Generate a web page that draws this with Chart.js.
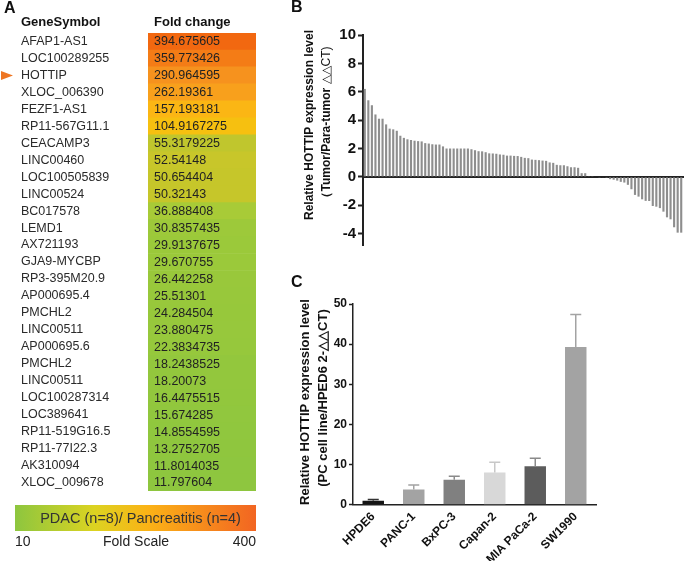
<!DOCTYPE html>
<html><head><meta charset="utf-8">
<script src="https://cdn.jsdelivr.net/npm/chart.js@4.4.1/dist/chart.umd.min.js"></script>
<style>
html,body{margin:0;padding:0;background:#fff;}
body{width:685px;height:561px;position:relative;overflow:hidden;}
canvas{position:absolute;}
</style></head><body>
<canvas id="cA" width="290" height="561" style="left:0;top:0;width:290px;height:561px"></canvas>
<canvas id="cB" width="395" height="270" style="left:290px;top:0;width:395px;height:270px"></canvas>
<canvas id="cC" width="395" height="291" style="left:290px;top:270px;width:395px;height:291px"></canvas>
<script>
// ---------- Panel A data ----------
const geneSymbols = ['AFAP1-AS1','LOC100289255','HOTTIP','XLOC_006390','FEZF1-AS1','RP11-567G11.1','CEACAMP3','LINC00460','LOC100505839','LINC00524','BC017578','LEMD1','AX721193','GJA9-MYCBP','RP3-395M20.9','AP000695.4','PMCHL2','LINC00511','AP000695.6','PMCHL2','LINC00511','LOC100287314','LOC389641','RP11-519G16.5','RP11-77I22.3','AK310094','XLOC_009678'];
const foldChange = [394.675605,359.773426,290.964595,262.19361,157.193181,104.9167275,55.3179225,52.54148,50.654404,50.32143,36.888408,30.8357435,29.9137675,29.670755,26.442258,25.51301,24.284504,23.880475,22.3834735,18.2438525,18.20073,16.4475515,15.674285,14.8554595,13.2752705,11.8014035,11.797604];
const highlightGene = 'HOTTIP';
const scaleMin = '10', scaleMax = '400';

// ---------- Panel B data ----------
const hottipRatio = [6.2,5.4,5.05,4.4,4.1,4.1,3.7,3.4,3.35,3.25,2.9,2.75,2.65,2.6,2.55,2.52,2.5,2.38,2.35,2.3,2.28,2.28,2.15,2.0,2.0,2.0,2.0,2.0,
 2.0,2.0,1.95,1.88,1.81,1.8,1.74,1.66,1.65,1.63,1.58,1.56,1.5,1.5,1.48,1.47,1.41,1.34,1.32,1.22,1.2,1.18,1.15,1.13,1.02,0.99,0.85,0.82,0.82,
 0.75,0.68,0.68,0.64,0.26,0.26,0.05,0.02,0,-0.02,-0.04,-0.06,-0.16,-0.2,-0.26,-0.35,-0.4,-0.56,-0.87,-1.27,-1.39,-1.58,-1.69,-1.7,-2.05,-2.1,-2.2,-2.45,-2.85,-2.99,-3.55,-3.93,-3.93];
const bTicks = [10,8,6,4,2,0,-2,-4];

// ---------- Panel C data ----------
const cellLines = ['HPDE6','PANC-1','BxPC-3','Capan-2','MIA PaCa-2','SW1990'];
const cellMeans = [1.0,3.8,6.2,8.0,9.6,39.3];
const cellErr = [0.3,1.1,0.9,2.6,2.0,8.1];
const cTicks = [0,10,20,30,40,50];

// ---------- styles ----------
const FF = '"Liberation Sans", Arial, Helvetica, sans-serif';
const cellColors = ['#141414','#a3a3a3','#808080','#d8d8d8','#5c5c5c','#a3a3a3'];
const errColors = ['#333333','#a3a3a3','#8a8a8a','#c8c8c8','#8a8a8a','#a3a3a3'];
const colorStops = [[10,[141,198,63]],[30,[155,201,58]],[37,[168,203,55]],[50,[198,198,42]],[53,[200,198,42]],[56,[190,198,46]],[105,[246,192,16]],[157,[251,182,20]],[262,[248,160,28]],[291,[246,146,30]],[360,[244,124,22]],[395,[242,104,16]]];
function foldColor(v){
  if (v <= colorStops[0][0]) return 'rgb('+colorStops[0][1].join(',')+')';
  for (let i=1;i<colorStops.length;i++){
    if (v <= colorStops[i][0]){
      const [a,ca]=colorStops[i-1],[b,cb]=colorStops[i];
      const t=(v-a)/(b-a);
      return 'rgb('+ca.map((c,k)=>Math.round(c+(cb[k]-c)*t)).join(',')+')';
    }
  }
  return 'rgb('+colorStops[colorStops.length-1][1].join(',')+')';
}
function drawVText(ctx, parts, cx, cy){
  ctx.save(); ctx.translate(cx, cy); ctx.rotate(-Math.PI/2);
  let total=0;
  parts.forEach(p=>{ctx.font=p.font; p.w=ctx.measureText(p.text).width; total+=p.w;});
  let x=-total/2; ctx.textBaseline='middle'; ctx.textAlign='left'; ctx.fillStyle='#111';
  parts.forEach(p=>{ctx.font=p.font; ctx.fillText(p.text,x,0); x+=p.w;});
  ctx.restore();
}
const common = {responsive:false, animation:false, devicePixelRatio:1, events:[]};

// ---------- Chart A ----------
new Chart(document.getElementById('cA'), {
  type:'bar',
  data:{labels:geneSymbols, datasets:[{data:geneSymbols.map(()=>[0,1]), backgroundColor:foldChange.map(foldColor), borderWidth:0, barPercentage:1, categoryPercentage:1}]},
  options:Object.assign({}, common, {
    indexAxis:'y',
    layout:{padding:{left:21, top:33, right:34, bottom:70}},
    scales:{
      x:{display:false, min:0, max:1},
      y:{position:'left', grid:{display:false, drawTicks:false}, border:{display:false},
         ticks:{crossAlign:'far', padding:0, color:'#2a2a2a', autoSkip:false, font:{family:FF, size:12.5}},
         afterFit(a){a.width=127;}}
    },
    plugins:{legend:{display:false}, tooltip:{enabled:false}}
  }),
  plugins:[{
    id:'tableText',
    afterDatasetsDraw(chart){
      const ctx=chart.ctx, meta=chart.getDatasetMeta(0);
      ctx.save();
      ctx.font='12.5px '+FF; ctx.fillStyle='#222'; ctx.textAlign='left'; ctx.textBaseline='middle';
      meta.data.forEach((bar,i)=>{ ctx.fillText(String(foldChange[i]), chart.chartArea.left+6, bar.y+0.5); });
      // headers
      ctx.font='bold 13px '+FF; ctx.fillStyle='#111';
      ctx.fillText('GeneSymbol', 21, 22.5);
      ctx.fillText('Fold change', chart.chartArea.left+6, 22.5);
      ctx.font='bold 16px '+FF; ctx.fillText('A', 4, 9);
      // highlight arrow
      const hi = geneSymbols.indexOf(highlightGene);
      const hy = meta.data[hi].y;
      ctx.fillStyle='#ee7623'; ctx.beginPath(); ctx.moveTo(1,hy-4.5); ctx.lineTo(13,hy); ctx.lineTo(1,hy+4.5); ctx.closePath(); ctx.fill();
      // color legend
      const g=ctx.createLinearGradient(15,0,256,0);
      g.addColorStop(0,'#8dc63f'); g.addColorStop(0.33,'#dcd321'); g.addColorStop(0.55,'#fbb316'); g.addColorStop(1,'#f26522');
      ctx.fillStyle=g; ctx.fillRect(15,505,241,26);
      ctx.fillStyle='#333'; ctx.font='14.5px '+FF; ctx.textAlign='center';
      ctx.fillText('PDAC (n=8)/ Pancreatitis (n=4)', 140.5, 519);
      ctx.font='14px '+FF; ctx.fillStyle='#222';
      ctx.textAlign='left'; ctx.fillText(scaleMin, 15, 542.5);
      ctx.textAlign='center'; ctx.fillText('Fold Scale', 136, 542.5);
      ctx.textAlign='right'; ctx.fillText(scaleMax, 256, 542.5);
      ctx.restore();
    }
  }]
});

// ---------- Chart B ----------
new Chart(document.getElementById('cB'), {
  type:'bar',
  data:{labels:hottipRatio.map((_,i)=>String(i+1)), datasets:[{data:hottipRatio, backgroundColor:'#8e8e8e', borderWidth:0, barPercentage:0.6, categoryPercentage:1}]},
  options:Object.assign({}, common, {
    layout:{padding:{left:0, top:35, right:2, bottom:25}},
    scales:{
      x:{position:{y:0}, grid:{display:false, drawTicks:false}, ticks:{display:false}, border:{display:true, color:'#222', width:2}, afterFit(a){a.height=0;}},
      y:{min:-4.8, max:10, afterBuildTicks(a){a.ticks=bTicks.map(v=>({value:v}));},
         grid:{drawOnChartArea:false, drawTicks:true, tickLength:5, tickWidth:2, tickColor:'#222'},
         border:{display:true, color:'#222', width:2},
         ticks:{color:'#111', padding:2, font:{family:FF, size:15, weight:'bold'}},
         afterFit(a){a.width=73;}}
    },
    plugins:{legend:{display:false}, tooltip:{enabled:false}}
  }),
  plugins:[{
    id:'bTitle',
    afterDraw(chart){
      const ctx=chart.ctx;
      drawVText(ctx,[{text:'Relative HOTTIP expression level', font:'bold 12px '+FF}], 20, 125);
      drawVText(ctx,[{text:'（Tumor/Para-tumor ', font:'bold 12px '+FF},{text:'△△CT)', font:'12px '+FF}], 36.5, 125);
      ctx.save(); ctx.font='bold 16px '+FF; ctx.fillStyle='#111'; ctx.textBaseline='middle'; ctx.fillText('B', 1, 8); ctx.restore();
    }
  }]
});

// ---------- Chart C ----------
new Chart(document.getElementById('cC'), {
  type:'bar',
  data:{labels:cellLines, datasets:[{data:cellMeans, backgroundColor:cellColors, borderWidth:0, barPercentage:0.53, categoryPercentage:1}]},
  options:Object.assign({}, common, {
    layout:{padding:{left:0, top:34, right:89, bottom:0}},
    scales:{
      x:{grid:{display:false, drawTicks:false}, border:{display:true, color:'#222', width:1.5},
         ticks:{maxRotation:45, minRotation:45, autoSkip:false, padding:5, color:'#111', font:{family:FF, size:12, weight:'bold'}},
         afterFit(a){a.height=56.3;}},
      y:{min:0, max:50, afterBuildTicks(a){a.ticks=cTicks.map(v=>({value:v}));},
         grid:{drawOnChartArea:false, drawTicks:true, tickLength:4, tickWidth:1.5, tickColor:'#222'},
         border:{display:true, color:'#222', width:1.5},
         ticks:{color:'#111', padding:2, font:{family:FF, size:12, weight:'bold'}},
         afterFit(a){a.width=63;}}
    },
    plugins:{legend:{display:false}, tooltip:{enabled:false}}
  }),
  plugins:[{
    id:'cExtras',
    afterDatasetsDraw(chart){
      const ctx=chart.ctx, meta=chart.getDatasetMeta(0), ys=chart.scales.y;
      ctx.save(); ctx.lineWidth=1.5;
      meta.data.forEach((bar,i)=>{
        const top=ys.getPixelForValue(cellMeans[i]+cellErr[i]);
        ctx.strokeStyle=errColors[i];
        ctx.beginPath(); ctx.moveTo(bar.x,bar.y); ctx.lineTo(bar.x,top);
        ctx.moveTo(bar.x-5.5,top); ctx.lineTo(bar.x+5.5,top); ctx.stroke();
      });
      ctx.restore();
    },
    afterDraw(chart){
      const ctx=chart.ctx;
      drawVText(ctx,[{text:'Relative HOTTIP expression level', font:'bold 13px '+FF}], 15, 132);
      drawVText(ctx,[{text:'(PC cell line/HPED6 2-△△CT)', font:'bold 13px '+FF}], 33, 128);
      ctx.save(); ctx.font='bold 16px '+FF; ctx.fillStyle='#111'; ctx.textBaseline='middle'; ctx.fillText('C', 1, 13); ctx.restore();
    }
  }]
});
</script>
</body></html>
